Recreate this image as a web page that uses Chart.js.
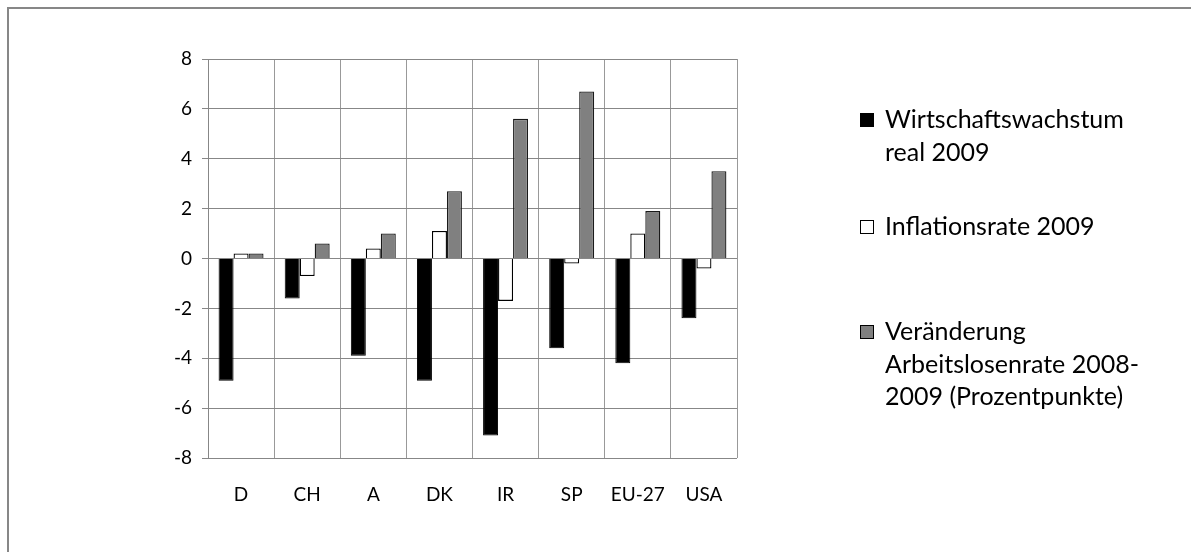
<!DOCTYPE html>
<html lang="de">
<head>
<meta charset="utf-8">
<title>Wirtschaftswachstum, Inflation und Arbeitslosigkeit 2009</title>
<script src="https://cdn.jsdelivr.net/npm/chart.js@4/dist/chart.umd.min.js"></script>
<style>
  html, body { margin: 0; padding: 0; background: #ffffff; }
  #wrap { position: relative; width: 1191px; height: 552px; }
  canvas { display: block; }
</style>
</head>
<body>
<div id="wrap"><canvas id="chart" width="1191" height="552"></canvas></div>
<script>
// Länder / Regionen
const categories = ["D", "CH", "A", "DK", "IR", "SP", "EU-27", "USA"];

// Reales Wirtschaftswachstum 2009 (%)
const wachstum = [-4.9, -1.6, -3.9, -4.9, -7.1, -3.6, -4.2, -2.4];
// Inflationsrate 2009 (%)
const inflation = [0.2, -0.7, 0.4, 1.1, -1.7, -0.2, 1.0, -0.4];
// Veränderung der Arbeitslosenrate 2008-2009 (Prozentpunkte)
const arbeitslosigkeit = [0.2, 0.6, 1.0, 2.7, 5.6, 6.7, 1.9, 3.5];

// Legendentexte, zeilenweise
const nameWachstum = ["Wirtschaftswachstum", "real 2009"];
const nameInflation = ["Inflationsrate 2009"];
const nameArbeitslos = ["Veränderung", "Arbeitslosenrate 2008-", "2009 (Prozentpunkte)"];

// y-Achse
const yTicks = [-8, -6, -4, -2, 0, 2, 4, 6, 8];

const FONT = "Lato, 'Open Sans', sans-serif";
const GRID = "#878787";

// Rahmen des Diagrammbereichs (links und oben)
const framePlugin = {
  id: "frame",
  beforeDraw(chart) {
    const ctx = chart.ctx;
    ctx.save();
    ctx.strokeStyle = "#878787";
    ctx.lineWidth = 2;
    ctx.beginPath();
    ctx.moveTo(8, chart.height + 2);
    ctx.lineTo(8, 8);
    ctx.lineTo(chart.width + 2, 8);
    ctx.stroke();
    ctx.restore();
  }
};

// Legende rechts mit mehrzeiligen Einträgen
const legendPlugin = {
  id: "wrappedLegend",
  afterDraw(chart) {
    const ctx = chart.ctx;
    const lineGap = 32.5;
    const itemTops = [120, 227, 332];
    const boxX = 860, boxSize = 14, textX = 885;
    ctx.save();
    ctx.font = "25px " + FONT;
    ctx.textBaseline = "middle";
    ctx.textAlign = "left";
    chart.data.datasets.forEach((ds, i) => {
      const y0 = itemTops[i];
      ctx.fillStyle = ds.backgroundColor;
      ctx.fillRect(boxX, y0 - boxSize / 2, boxSize, boxSize);
      ctx.strokeStyle = "#000000";
      ctx.lineWidth = 1;
      ctx.strokeRect(boxX + 0.5, y0 - boxSize / 2 + 0.5, boxSize - 1, boxSize - 1);
      ctx.fillStyle = "#000000";
      ds.legendLines.forEach((line, k) => {
        ctx.fillText(line, textX, y0 + k * lineGap);
      });
    });
    ctx.restore();
  }
};

new Chart(document.getElementById("chart"), {
  type: "bar",
  data: {
    labels: categories,
    datasets: [
      {
        label: nameWachstum.join(" "),
        legendLines: nameWachstum,
        data: wachstum,
        backgroundColor: "#000000",
        borderColor: "#000000",
        borderWidth: 1
      },
      {
        label: nameInflation.join(" "),
        legendLines: nameInflation,
        data: inflation,
        backgroundColor: "#ffffff",
        borderColor: "#000000",
        borderWidth: 1.3
      },
      {
        label: nameArbeitslos.join(" "),
        legendLines: nameArbeitslos,
        data: arbeitslosigkeit,
        backgroundColor: "#808080",
        borderColor: "#1a1a1a",
        borderWidth: 1.3
      }
    ]
  },
  options: {
    responsive: false,
    animation: false,
    events: [],
    layout: { padding: { left: 0, top: 59, right: 454, bottom: 0 } },
    datasets: {
      bar: { categoryPercentage: 0.68, barPercentage: 1.0, borderSkipped: "start" }
    },
    plugins: {
      legend: { display: false },
      title: { display: false },
      tooltip: { enabled: false }
    },
    scales: {
      x: {
        offset: true,
        grid: {
          display: true,
          offset: true,
          color: "#999999",
          lineWidth: 1,
          drawTicks: false
        },
        border: { display: false },
        ticks: {
          color: "#000000",
          font: { family: FONT, size: 19 },
          padding: 25,
          maxRotation: 0,
          autoSkip: false
        },
        afterFit(scale) { scale.height = 94; }
      },
      y: {
        min: yTicks[0],
        max: yTicks[yTicks.length - 1],
        afterBuildTicks(scale) {
          scale.ticks = yTicks.map(v => ({ value: v }));
        },
        grid: {
          color: GRID,
          lineWidth: 1,
          drawTicks: true,
          tickLength: 6
        },
        border: { display: true, color: GRID, width: 1 },
        ticks: {
          color: "#000000",
          font: { family: FONT, size: 19 },
          padding: 10
        },
        afterFit(scale) { scale.width = 208; }
      }
    }
  },
  plugins: [framePlugin, legendPlugin]
});
</script>
</body>
</html>
